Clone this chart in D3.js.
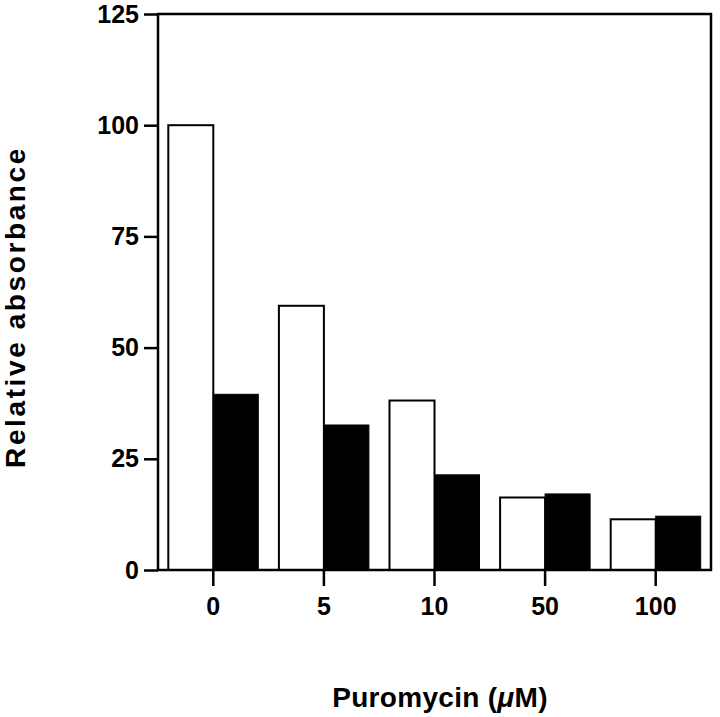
<!DOCTYPE html>
<html>
<head>
<meta charset="utf-8">
<script src="https://cdn.jsdelivr.net/npm/d3@7"></script>
<style>
  body { margin: 0; background: #fff; }
  text { font-family: "Liberation Sans", Arial, sans-serif; font-weight: bold; fill: #000; }
</style>
</head>
<body>
<script>
// puromycin doses (category labels)
var doses = ["0", "5", "10", "50", "100"];
// open bars and filled bars
var openValues = [100, 59.4, 38.1, 16.3, 11.4];
var filledValues = [39.5, 32.6, 21.4, 17.1, 12.1];
var yTicks = [0, 25, 50, 75, 100, 125];

var width = 720, height = 717;
var margin = {top: 14, right: 9, bottom: 147, left: 158};

var svg = d3.select("body").append("svg")
    .attr("width", width)
    .attr("height", height);

var x = d3.scaleBand()
    .domain(doses)
    .range([margin.left, width - margin.right])
    .padding(0);

var y = d3.scaleLinear()
    .domain([0, 125])
    .range([height - margin.bottom, margin.top]);

var barW = 45;

// open bars (left of tick)
svg.selectAll(".open")
    .data(openValues)
    .enter().append("rect")
    .attr("class", "open")
    .attr("x", (d, i) => x(doses[i]) + x.bandwidth() / 2 - barW)
    .attr("y", d => y(d))
    .attr("width", barW)
    .attr("height", d => y(0) - y(d))
    .attr("fill", "#fff")
    .attr("stroke", "#000")
    .attr("stroke-width", 2);

// filled bars (right of tick)
svg.selectAll(".filled")
    .data(filledValues)
    .enter().append("rect")
    .attr("class", "filled")
    .attr("x", (d, i) => x(doses[i]) + x.bandwidth() / 2)
    .attr("y", d => y(d))
    .attr("width", barW)
    .attr("height", d => y(0) - y(d))
    .attr("fill", "#000")
    .attr("stroke", "#000")
    .attr("stroke-width", 1);

// frame
svg.append("rect")
    .attr("x", margin.left)
    .attr("y", margin.top)
    .attr("width", width - margin.left - margin.right)
    .attr("height", height - margin.top - margin.bottom)
    .attr("fill", "none")
    .attr("stroke", "#000")
    .attr("stroke-width", 2.5);

// y axis
var yAxis = svg.append("g")
    .attr("transform", "translate(" + margin.left + ",0)")
    .call(d3.axisLeft(y).tickValues(yTicks).tickSize(14).tickPadding(5));
yAxis.select(".domain").remove();
yAxis.selectAll("line").attr("stroke-width", 2.5);
yAxis.selectAll("text")
    .style("font-size", "25px")
    .style("font-family", "Liberation Sans, Arial, sans-serif")
    .style("font-weight", "bold");

// x axis
var xAxis = svg.append("g")
    .attr("transform", "translate(0," + y(0) + ")")
    .call(d3.axisBottom(x).tickSize(16).tickPadding(11));
xAxis.select(".domain").remove();
xAxis.selectAll("line").attr("stroke-width", 2.5);
xAxis.selectAll("text")
    .style("font-size", "25px")
    .style("font-family", "Liberation Sans, Arial, sans-serif")
    .style("font-weight", "bold");

// axis titles
svg.append("text")
    .attr("transform", "translate(25,307) rotate(-90)")
    .attr("text-anchor", "middle")
    .style("font-size", "28px")
    .style("letter-spacing", "2.6px")
    .text("Relative absorbance");

var xt = svg.append("text")
    .attr("x", 440)
    .attr("y", 707)
    .attr("text-anchor", "middle")
    .style("font-size", "28px")
    .style("letter-spacing", "0.3px");
xt.append("tspan").text("Puromycin (");
xt.append("tspan").style("font-style", "italic").text("\u03bc");
xt.append("tspan").text("M)");
</script>
</body>
</html>
